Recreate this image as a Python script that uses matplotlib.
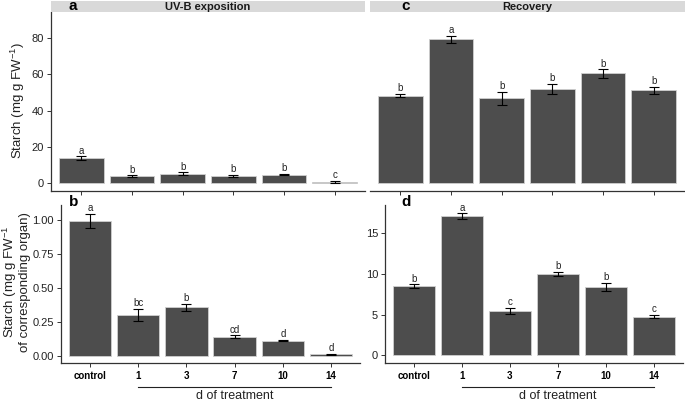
import matplotlib
matplotlib.use("Agg")
import matplotlib.pyplot as plt
from matplotlib.patches import Rectangle
import matplotlib.transforms as mtransforms
import numpy as np

plt.rcParams['font.family'] = ['Liberation Sans', 'DejaVu Sans']
plt.rcParams['mathtext.fontset'] = 'custom'
plt.rcParams['mathtext.rm'] = 'Liberation Sans'
plt.rcParams['mathtext.it'] = 'Liberation Sans:italic'
plt.rcParams['mathtext.bf'] = 'Liberation Sans:bold'

categories = ["control", "1", "3", "7", "10", "14"]

uvb_means = [13.8, 3.7, 5.1, 4.0, 4.6, 0.6]
uvb_se = [0.9, 0.4, 0.8, 0.5, 0.5, 0.4]
uvb_letters = ["a", "b", "b", "b", "b", "c"]

rec_means = [48.2, 79.4, 46.8, 52.0, 60.5, 51.1]
rec_se = [0.9, 1.8, 3.5, 2.6, 2.3, 1.9]
rec_letters = ["b", "a", "b", "b", "b", "b"]

organ_uvb_means = [0.99, 0.298, 0.355, 0.139, 0.112, 0.01]
organ_uvb_se = [0.053, 0.045, 0.025, 0.01, 0.005, 0.003]
organ_uvb_letters = ["a", "bc", "b", "cd", "d", "d"]

organ_rec_means = [8.52, 17.1, 5.45, 10.05, 8.45, 4.75]
organ_rec_se = [0.2, 0.35, 0.42, 0.25, 0.5, 0.22]
organ_rec_letters = ["b", "a", "c", "b", "b", "c"]

W, H = 685, 404
fig = plt.figure(figsize=(W / 100, H / 100), dpi=100)


def px_axes(x0, y0, x1, y1):
    return fig.add_axes([x0 / W, 1 - y1 / H, (x1 - x0) / W, (y1 - y0) / H])


BAR = "#4d4d4d"
EDGE = "#d0d0d0"
AX = "#333333"


def draw(ax, means, se, letters, ylim, yticks, ytl, show_y=True, xlabels=False):
    x = np.arange(len(categories))
    ax.bar(x, means, width=0.88, color=BAR, edgecolor=EDGE, linewidth=0.6, zorder=2)
    ax.errorbar(x, means, yerr=se, fmt='none', ecolor='black', elinewidth=0.8,
                capsize=3.6, capthick=0.8, zorder=3)
    for xi, m, s, l in zip(x, means, se, letters):
        ax.annotate(l, (xi, m + s), xytext=(0, 0.5), textcoords='offset points',
                    ha='center', va='bottom', fontsize=7, color='#222222')
    ax.set_xlim(-0.6, len(categories) - 0.4)
    ax.set_ylim(*ylim)
    for sp in ['top', 'right']:
        ax.spines[sp].set_visible(False)
    ax.spines['bottom'].set_color(AX)
    ax.spines['bottom'].set_linewidth(0.9)
    ax.set_xticks(x)
    if xlabels:
        ax.set_xticklabels(categories, fontsize=7, fontweight='bold')
    else:
        ax.set_xticklabels([])
    ax.tick_params(axis='x', length=3, width=0.7, color=AX, pad=3)
    if show_y:
        ax.spines['left'].set_color(AX)
        ax.spines['left'].set_linewidth(0.9)
        ax.set_yticks(yticks)
        ax.set_yticklabels(ytl, fontsize=8, color='#222222')
        ax.tick_params(axis='y', length=3, width=0.7, color=AX, pad=2)
    else:
        ax.spines['left'].set_visible(False)
        ax.set_yticks([])


ax_a = px_axes(51, 12, 365, 191)
draw(ax_a, uvb_means, uvb_se, uvb_letters, (-4.5, 94.5), [0, 20, 40, 60, 80],
     ["0", "20", "40", "60", "80"])
ax_c = px_axes(370, 12, 684, 191)
draw(ax_c, rec_means, rec_se, rec_letters, (-4.5, 94.5), [], [], show_y=False)
ax_b = px_axes(61, 205, 360, 363)
draw(ax_b, organ_uvb_means, organ_uvb_se, organ_uvb_letters, (-0.053, 1.107),
     [0, 0.25, 0.5, 0.75, 1.0], ["0.00", "0.25", "0.50", "0.75", "1.00"], xlabels=True)
ax_d = px_axes(385, 205, 683, 363)
draw(ax_d, organ_rec_means, organ_rec_se, organ_rec_letters, (-0.94, 18.48),
     [0, 5, 10, 15], ["0", "5", "10", "15"], xlabels=True)

# strips
for (x0, x1, label) in [(51, 365, "UV-B exposition"), (370, 685, "Recovery")]:
    fig.add_artist(Rectangle((x0 / W, 1 - 12 / H), (x1 - x0) / W, 11 / H,
                             transform=fig.transFigure, facecolor="#d9d9d9",
                             edgecolor='none'))
    fig.text((x0 + x1) / 2 / W, 1 - 6.5 / H, label, ha='center', va='center',
             fontsize=8, fontweight='bold', color='#1a1a1a')

# panel tags
for (px, py, t) in [(73, 6, "a"), (406, 6, "c"), (74, 202, "b"), (406, 202, "d")]:
    fig.text(px / W, 1 - py / H, t, ha='center', va='center', fontsize=11,
             fontweight='bold', color='black')

# y labels
fig.text(18 / W, 1 - 101 / H, r"Starch (mg g FW$^{-1}$)", rotation=90,
         ha='center', va='center', fontsize=9.5, color='#222222')
fig.text(16 / W, 1 - 282 / H, "Starch (mg g FW$^{-1}$\nof corresponding organ)",
         rotation=90, ha='center', va='center', fontsize=9.5, color='#222222',
         linespacing=0.95)

# "d of treatment" brackets
for ax in (ax_b, ax_d):
    trans = mtransforms.blended_transform_factory(ax.transData, ax.transAxes)
    ax.plot([1, 5], [-0.152, -0.152], transform=trans, color='#222222', lw=0.8,
            clip_on=False)
    ax.text(3, -0.212, "d of treatment", transform=trans, ha='center', va='center',
            fontsize=9, color='#222222')

fig.savefig("out.png", dpi=100)
